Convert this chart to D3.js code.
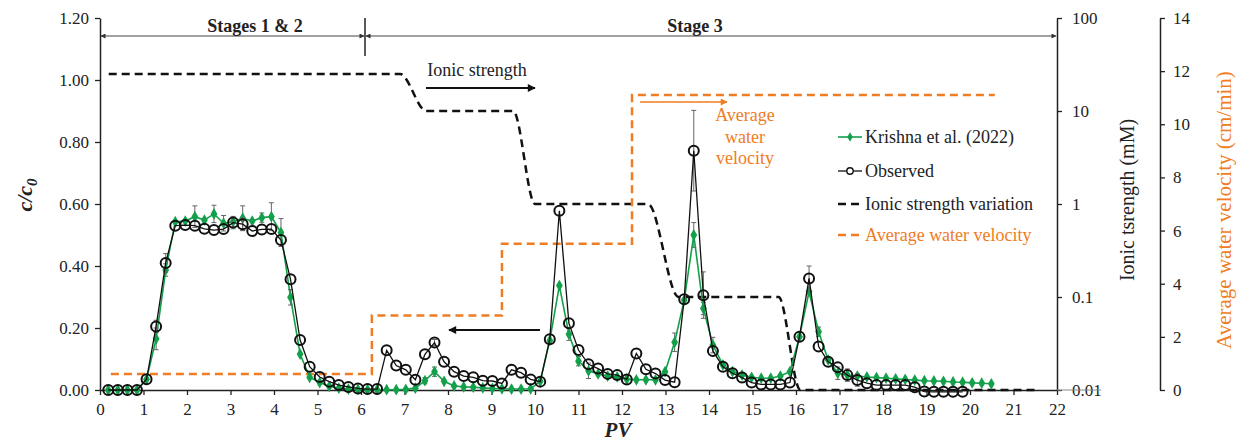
<!DOCTYPE html>
<html>
<head>
  <meta charset="utf-8">
  <script src="https://d3js.org/d3.v7.min.js"></script>
  <title>Breakthrough curves, c/c0 vs PV</title>
  <style>
    body { margin: 0; background: #fff; }
    text { font-family: "Liberation Serif", "Times New Roman", serif; fill: #222; }
  </style>
</head>
<body>
<script>

  // pore volumes of the sampled effluent
  var pv = [0.19, 0.41, 0.63, 0.85, 1.07, 1.29, 1.51, 1.73, 1.96, 2.18, 2.40, 2.62, 2.84, 3.06, 3.28, 3.50,
            3.72, 3.94, 4.16, 4.38, 4.60, 4.82, 5.05, 5.27, 5.49, 5.71, 5.93, 6.15, 6.37, 6.59, 6.81, 7.03,
            7.25, 7.47, 7.69, 7.91, 8.14, 8.36, 8.58, 8.80, 9.02, 9.24, 9.46, 9.68, 9.90, 10.12, 10.34, 10.56,
            10.78, 11.00, 11.23, 11.45, 11.67, 11.89, 12.11, 12.33, 12.55, 12.77, 12.99, 13.21, 13.43, 13.65,
            13.87, 14.09, 14.32, 14.54, 14.76, 14.98, 15.20, 15.42, 15.64, 15.86, 16.08, 16.30, 16.52, 16.74,
            16.96, 17.18, 17.41, 17.63, 17.85, 18.07, 18.29, 18.51, 18.73, 18.95, 19.17, 19.39, 19.61, 19.83,
            20.05, 20.27, 20.49];

  // observed c/c0
  var observed = [0, 0, 0, 0, 0.035, 0.205, 0.41, 0.53, 0.532, 0.53, 0.52, 0.516, 0.519, 0.54, 0.535, 0.513,
                  0.518, 0.519, 0.484, 0.357, 0.161, 0.075, 0.042, 0.027, 0.016, 0.010, 0.005, 0.003, 0.003, 0.128,
                  0.079, 0.065, 0.033, 0.115, 0.153, 0.091, 0.059, 0.045, 0.041, 0.030, 0.029, 0.021, 0.065, 0.056,
                  0.034, 0.027, 0.164, 0.578, 0.215, 0.129, 0.083, 0.069, 0.052, 0.048, 0.034, 0.118, 0.067, 0.053,
                  0.032, 0.025, 0.293, 0.772, 0.306, 0.126, 0.075, 0.054, 0.040, 0.024, 0.018, 0.018, 0.018, 0.024,
                  0.172, 0.360, 0.140, 0.091, 0.073, 0.048, 0.032, 0.022, 0.016, 0.016, 0.016, 0.016, 0.009, -0.005,
                  -0.006, -0.006, -0.006, -0.006];

  var errObserved = [0, 0, 0, 0, 0, 0.02, 0.03, 0, 0, 0, 0, 0, 0, 0.02, 0.02, 0,
                     0, 0, 0, 0, 0, 0, 0, 0, 0, 0, 0, 0, 0, 0,
                     0, 0, 0, 0, 0.01, 0, 0, 0, 0, 0, 0, 0, 0, 0,
                     0, 0, 0, 0, 0, 0, 0, 0, 0, 0, 0, 0, 0, 0,
                     0, 0, 0, 0.13, 0.075, 0, 0, 0, 0, 0, 0, 0, 0, 0,
                     0, 0.04, 0, 0, 0, 0, 0.02, 0, 0, 0, 0, 0, 0, 0,
                     0, 0, 0, 0];

  // Krishna et al. (2022) model c/c0
  var krishna = [0, 0, 0, 0, 0.035, 0.165, 0.387, 0.543, 0.545, 0.559, 0.548, 0.568, 0.538, 0.543, 0.554, 0.545,
                 0.556, 0.559, 0.508, 0.299, 0.116, 0.041, 0.024, 0.012, 0.006, 0.003, 0.002, 0.001, 0.001, 0.001,
                 0.001, 0.002, 0.006, 0.030, 0.059, 0.028, 0.013, 0.010, 0.009, 0.007, 0.005, 0.004, 0.003, 0.003,
                 0.004, 0.028, 0.160, 0.337, 0.180, 0.093, 0.062, 0.052, 0.045, 0.042, 0.035, 0.033, 0.033, 0.033,
                 0.059, 0.154, 0.290, 0.500, 0.263, 0.145, 0.081, 0.059, 0.048, 0.041, 0.038, 0.038, 0.045, 0.059,
                 0.172, 0.317, 0.188, 0.097, 0.054, 0.048, 0.045, 0.042, 0.040, 0.038, 0.036, 0.034, 0.032, 0.030,
                 0.029, 0.028, 0.026, 0.025, 0.023, 0.022, 0.020];

  var errKrishna = [0, 0, 0, 0, 0, 0.035, 0.02, 0, 0, 0.035, 0, 0.028, 0.025, 0, 0.04, 0,
                    0.015, 0.045, 0.045, 0.025, 0, 0, 0, 0, 0, 0, 0, 0, 0, 0,
                    0, 0, 0, 0.01, 0.015, 0, 0, 0, 0, 0, 0, 0, 0, 0,
                    0, 0, 0, 0, 0.02, 0.015, 0.025, 0, 0, 0, 0, 0, 0, 0,
                    0, 0.03, 0, 0.04, 0.02, 0.025, 0, 0, 0, 0, 0, 0, 0, 0,
                    0, 0, 0.015, 0, 0.02, 0.02, 0, 0, 0, 0, 0, 0, 0, 0,
                    0, 0, 0, 0, 0, 0, 0];

  // ionic strength (mM) applied to the column, secondary log axis
  var ionPV = [0.2, 6.9, 7.5, 9.5, 10.0, 12.6, 13.3, 15.6, 16.1, 21.5];
  var ionMM = [25, 25, 10, 10, 1, 1, 0.1, 0.1, 0.01, 0.01];

  // average pore water velocity (cm/min), steps at each change
  var velPV = [0.25, 6.25, 9.24, 12.23, 20.57];
  var velCM = [0.6, 2.8, 5.5, 11.1, 11.1];

  var cTicks = [0, 0.2, 0.4, 0.6, 0.8, 1.0, 1.2];
  var pvTicks = d3.range(0, 23);
  var ionTicks = [0.01, 0.1, 1, 10, 100];
  var velTicks = [0, 2, 4, 6, 8, 10, 12, 14];

  var orange = "#f07c23", green = "#12a04a";

  var width = 1240, height = 444;

  var svg = d3.select("body").append("svg")
              .attr("width", width)
              .attr("height", height);

  var x = d3.scaleLinear().domain([0, 22]).range([100, 1057]);
  var y = d3.scaleLinear().domain([0, 1.2]).range([390, 18]);
  var yIon = d3.scaleLog().domain([0.01, 100]).range([390, 18]);
  var yVel = d3.scaleLinear().domain([0, 14]).range([390, 18]);

  // arrow heads
  var defs = svg.append("defs");
  function arrowHead(id, color, w, h) {
    defs.append("marker")
        .attr("id", id)
        .attr("viewBox", "0 0 10 10")
        .attr("refX", 9).attr("refY", 5)
        .attr("markerUnits", "userSpaceOnUse")
        .attr("markerWidth", w).attr("markerHeight", h)
        .attr("orient", "auto-start-reverse")
      .append("path")
        .attr("d", "M0,0 L10,5 L0,10 Z")
        .style("fill", color);
  }
  arrowHead("arrBlack", "#111", 10, 8);
  arrowHead("arrOrange", orange, 9, 7);
  arrowHead("arrSmall", "#333", 6, 5);

  function styleAxis(g, size) {
    g.select(".domain").style("stroke", "#222").style("stroke-width", 1.5);
    g.selectAll(".tick line").style("stroke", "#222").style("stroke-width", 1.3);
    g.selectAll(".tick text")
      .style("font-family", "'Liberation Serif', 'Times New Roman', serif")
      .style("font-size", size + "px")
      .style("fill", "#222");
  }

  // axes
  svg.append("g")
     .attr("transform", "translate(100,0)")
     .call(d3.axisLeft(y).tickValues(cTicks).tickFormat(d3.format(".2f"))
             .tickSize(5).tickSizeOuter(0).tickPadding(6))
     .call(styleAxis, 17);

  svg.append("g")
     .attr("transform", "translate(0,390)")
     .call(d3.axisBottom(x).tickValues(pvTicks).tickSize(5).tickSizeOuter(0).tickPadding(8))
     .call(styleAxis, 17);

  svg.append("g")
     .attr("transform", "translate(1057,0)")
     .call(d3.axisRight(yIon).tickValues(ionTicks).tickFormat(d3.format("~g"))
             .tickSize(5).tickSizeOuter(0).tickPadding(10))
     .call(styleAxis, 17);

  svg.append("g")
     .attr("transform", "translate(1160,0)")
     .call(d3.axisRight(yVel).tickValues(velTicks)
             .tickSize(5).tickSizeOuter(0).tickPadding(8))
     .call(styleAxis, 17);

  svg.append("line")
     .attr("x1", 1057).attr("x2", 1101).attr("y1", 390).attr("y2", 390)
     .style("stroke", "#888").style("stroke-width", 1);

  // axis titles
  svg.append("text")
     .attr("transform", "translate(32,195) rotate(-90)")
     .attr("text-anchor", "middle")
     .style("font-size", "22px").style("font-weight", "bold").style("font-style", "italic")
     .html("c/c<tspan dy='5' font-size='15px'>0</tspan>");

  svg.append("text")
     .attr("x", 618).attr("y", 437)
     .attr("text-anchor", "middle")
     .style("font-size", "21px").style("font-weight", "bold").style("font-style", "italic")
     .text("PV");

  svg.append("text")
     .attr("transform", "translate(1134,200) rotate(-90)")
     .attr("text-anchor", "middle")
     .style("font-size", "20px")
     .text("Ionic tsrength (mM)");

  svg.append("text")
     .attr("transform", "translate(1231,210) rotate(-90)")
     .attr("text-anchor", "middle")
     .style("font-size", "21px").style("fill", orange)
     .text("Average water velocity (cm/min)");

  // stage brackets along the top
  [[100, 365], [365, 1057]].forEach(function(s) {
    svg.append("line")
       .attr("x1", s[0] + 1).attr("x2", s[1] - 1).attr("y1", 36).attr("y2", 36)
       .attr("marker-start", "url(#arrSmall)").attr("marker-end", "url(#arrSmall)")
       .style("stroke", "#444").style("stroke-width", 1);
  });
  svg.append("line")
     .attr("x1", 365).attr("x2", 365).attr("y1", 18).attr("y2", 56)
     .style("stroke", "#222").style("stroke-width", 1.5);

  svg.append("text").attr("x", 255).attr("y", 32).attr("text-anchor", "middle")
     .style("font-size", "18px").style("font-weight", "bold").text("Stages 1 & 2");
  svg.append("text").attr("x", 695).attr("y", 32).attr("text-anchor", "middle")
     .style("font-size", "18px").style("font-weight", "bold").text("Stage 3");

  // ionic strength and velocity steps
  var ionLine = d3.line()
                  .x(function(d, i) { return x(ionPV[i]); })
                  .y(function(d) { return yIon(d); })
                  .curve(d3.curveMonotoneX);

  svg.append("path")
     .attr("d", ionLine(ionMM))
     .style("fill", "none")
     .style("stroke", "#111")
     .style("stroke-width", 2.5)
     .style("stroke-dasharray", "8,5");

  var velLine = d3.line()
                  .x(function(d, i) { return x(velPV[i]); })
                  .y(function(d) { return yVel(d); })
                  .curve(d3.curveStepAfter);

  svg.append("path")
     .attr("d", velLine(velCM))
     .style("fill", "none")
     .style("stroke", orange)
     .style("stroke-width", 2.5)
     .style("stroke-dasharray", "8,5");

  // one concentration series with its error bars and markers
  function drawSeries(values, errs, color, lineWidth, markerFn) {
    var pts = values.map(function(v, i) { return { x: pv[i], v: v, e: errs[i] }; });
    var g = svg.append("g");

    var bars = g.selectAll(".err")
                .data(pts.filter(function(d) { return d.e > 0; }))
                .enter().append("g").attr("class", "err");
    bars.append("line")
        .attr("x1", function(d) { return x(d.x); }).attr("x2", function(d) { return x(d.x); })
        .attr("y1", function(d) { return y(d.v - d.e); }).attr("y2", function(d) { return y(d.v + d.e); });
    [-1, 1].forEach(function(sgn) {
      bars.append("line")
          .attr("x1", function(d) { return x(d.x) - 2.5; }).attr("x2", function(d) { return x(d.x) + 2.5; })
          .attr("y1", function(d) { return y(d.v + sgn * d.e); }).attr("y2", function(d) { return y(d.v + sgn * d.e); });
    });
    bars.selectAll("line").style("stroke", "#666").style("stroke-width", 1);

    g.append("path")
     .attr("d", d3.line().x(function(d) { return x(d.x); }).y(function(d) { return y(d.v); })(pts))
     .style("fill", "none")
     .style("stroke", color)
     .style("stroke-width", lineWidth);

    markerFn(g.selectAll(".pt").data(pts).enter());
  }

  drawSeries(krishna, errKrishna, green, 1.6, function(sel) {
    sel.append("path")
       .attr("d", d3.symbol().type(d3.symbolDiamond).size(40))
       .attr("transform", function(d) { return "translate(" + x(d.x) + "," + y(d.v) + ")"; })
       .style("fill", green);
  });

  drawSeries(observed, errObserved, "#111", 1.3, function(sel) {
    sel.append("circle")
       .attr("cx", function(d) { return x(d.x); })
       .attr("cy", function(d) { return y(d.v); })
       .attr("r", 5)
       .style("fill", "none")
       .style("stroke", "#111")
       .style("stroke-width", 2);
  });

  // annotation arrows
  svg.append("text").attr("x", 477).attr("y", 76).attr("text-anchor", "middle")
     .style("font-size", "18px").text("Ionic strength");
  svg.append("line")
     .attr("x1", 426).attr("x2", 535).attr("y1", 88).attr("y2", 88)
     .attr("marker-end", "url(#arrBlack)")
     .style("stroke", "#111").style("stroke-width", 2);

  svg.append("line")
     .attr("x1", 540).attr("x2", 449).attr("y1", 330).attr("y2", 330)
     .attr("marker-end", "url(#arrBlack)")
     .style("stroke", "#111").style("stroke-width", 2);

  svg.append("line")
     .attr("x1", 640).attr("x2", 727).attr("y1", 102).attr("y2", 102)
     .attr("marker-end", "url(#arrOrange)")
     .style("stroke", orange).style("stroke-width", 1.6);

  ["Average", "water", "velocity"].forEach(function(t, i) {
    svg.append("text").attr("x", 745).attr("y", 121 + i * 21.5).attr("text-anchor", "middle")
       .style("font-size", "18px").style("fill", orange).text(t);
  });

  // legend
  var legend = svg.append("g").attr("transform", "translate(838,0)");
  var rows = [
    { label: "Krishna et al. (2022)", y: 137, color: "#222" },
    { label: "Observed", y: 171, color: "#222" },
    { label: "Ionic strength variation", y: 204, color: "#222" },
    { label: "Average water velocity", y: 235, color: orange }
  ];

  legend.append("line").attr("x1", 0).attr("x2", 24).attr("y1", 137).attr("y2", 137)
        .style("stroke", green).style("stroke-width", 1.6);
  legend.append("path").attr("d", d3.symbol().type(d3.symbolDiamond).size(26))
        .attr("transform", "translate(12,137)").style("fill", green);

  legend.append("line").attr("x1", 0).attr("x2", 24).attr("y1", 171).attr("y2", 171)
        .style("stroke", "#111").style("stroke-width", 1.3);
  legend.append("circle").attr("cx", 12).attr("cy", 171).attr("r", 3.2)
        .style("fill", "#fff").style("stroke", "#111").style("stroke-width", 1.4);

  [[204, "#111"], [235, orange]].forEach(function(r) {
    legend.append("line").attr("x1", 0).attr("x2", 24).attr("y1", r[0]).attr("y2", r[0])
          .style("stroke", r[1]).style("stroke-width", 2.5).style("stroke-dasharray", "8,5");
  });

  legend.selectAll(".lab")
        .data(rows)
        .enter().append("text")
        .attr("x", 27)
        .attr("y", function(d) { return d.y + 6; })
        .style("font-size", "18px")
        .style("fill", function(d) { return d.color; })
        .text(function(d) { return d.label; });

</script>
</body>
</html>
